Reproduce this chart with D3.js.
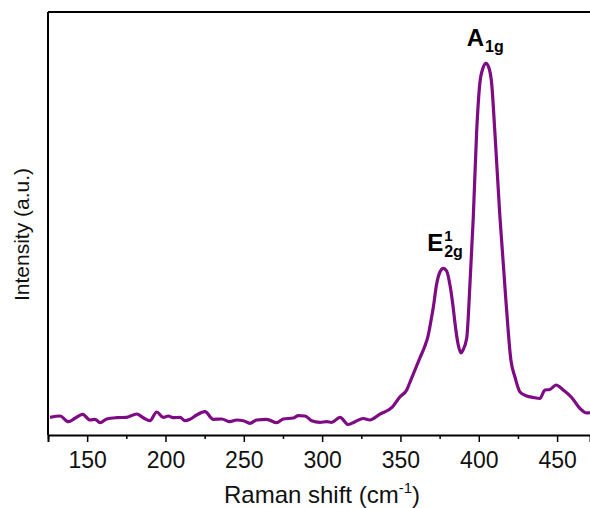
<!DOCTYPE html>
<html>
<head>
<meta charset="utf-8">
<script src="https://cdn.jsdelivr.net/npm/d3@7"></script>
<style>
  body { margin: 0; background: #fff; }
  text { font-family: Arial, "Liberation Sans", sans-serif; }
</style>
</head>
<body>
<div id="chart"></div>
<script>
// Raman shift (cm-1)
const ramanShift = [
  126.3, 132.7, 138.0, 142.2, 147.1, 151.8, 155.0, 158.2, 162.5, 168.9,
  175.2, 181.6, 185.8, 190.1, 194.4, 198.6, 201.8, 205.0, 209.3, 212.4,
  215.6, 219.9, 225.2, 230.5, 235.9, 241.2, 245.4, 249.7, 253.9, 258.2,
  264.6, 271.0, 275.2, 281.6, 284.8, 289.0, 293.3, 298.6, 302.9, 306.1,
  311.4, 316.7, 321.0, 326.3, 330.5, 336.9, 344.4, 349.7, 354.0, 356.1,
  360.3, 362.4, 365.6, 367.6, 369.9, 370.9, 373.1, 375.2, 377.3, 379.5,
  381.6, 383.7, 384.8, 386.9, 388.6, 389.9, 392.3, 394.4, 396.5, 398.6,
  400.7, 402.7, 404.6, 406.5, 408.2, 410.3, 413.5, 417.3, 420.5, 423.1,
  426.3, 430.6, 434.8, 439.0, 442.2, 445.4, 449.3, 453.9, 459.3, 464.6,
  468.9, 471.0
];
// Intensity (a.u.)
const intensity = [
  41.8, 44.9, 31.4, 39.5, 48.9, 35.5, 37.1, 29.1, 37.8, 40.9,
  41.8, 49.6, 40.9, 33.8, 54.4, 41.8, 44.9, 40.9, 41.8, 33.8,
  37.1, 47.3, 55.1, 37.1, 37.8, 31.4, 35.5, 33.8, 27.7, 35.5,
  37.1, 29.1, 37.8, 40.2, 45.6, 44.9, 33.8, 30.0, 31.4, 30.0,
  41.8, 24.8, 31.4, 39.0, 35.5, 49.6, 64.5, 90.5, 106.4, 125.3,
  163.1, 182.0, 210.4, 234.0, 279.0, 300.2, 357.0, 385.3, 394.1, 387.7,
  354.6, 300.2, 264.8, 212.8, 193.8, 200.9, 229.3, 359.3, 515.4, 713.9,
  832.1, 867.6, 878.7, 867.6, 832.1, 713.9, 515.4, 319.1, 177.3, 137.1,
  101.7, 92.2, 88.7, 86.3, 106.4, 107.6, 118.2, 106.4, 88.7, 62.6,
  52.0, 53.2
];

const xTicks = [150, 200, 250, 300, 350, 400, 450];
const xMinorTicks = [125, 175, 225, 275, 325, 375, 425];
const xDomain = [125, 471];
const yDomain = [0, 1000];

// peak labels: main letter, subscript, superscript, peak position
const peakMain = ["E", "A"];
const peakSub = ["2g", "1g"];
const peakSup = ["1", ""];
const peakAt = [377.3, 404.6];

const config = { width: 590, height: 508, top: 12, left: 48, bottom: 73, right: 0 };
const innerW = config.width - config.left - config.right;
const innerH = config.height - config.top - config.bottom;

const svg = d3.select("#chart").append("svg")
  .attr("width", config.width)
  .attr("height", config.height);

const g = svg.append("g")
  .attr("transform", `translate(${config.left},${config.top})`);

const x = d3.scaleLinear().domain(xDomain).range([0, innerW]);
const y = d3.scaleLinear().domain(yDomain).range([innerH, 0]);

const data = ramanShift.map((d, i) => ({ x: d, y: intensity[i] }));

// spectrum
const line = d3.line()
  .x(d => x(d.x))
  .y(d => y(d.y))
  .curve(d3.curveMonotoneX);

g.append("path")
  .datum(data)
  .attr("fill", "none")
  .attr("stroke", "#7e0b83")
  .attr("stroke-width", 3.2)
  .attr("stroke-linejoin", "round")
  .attr("d", line);

// bottom axis (major + minor ticks)
const xAxis = g.append("g")
  .attr("transform", `translate(0,${innerH})`)
  .call(d3.axisBottom(x).tickValues(xTicks).tickSize(7).tickPadding(10).tickFormat(d3.format("d")));
xAxis.select(".domain").attr("stroke-width", 2);
xAxis.selectAll(".tick line").attr("stroke-width", 1.5);
xAxis.selectAll("text").attr("font-size", 23).attr("fill", "#111");

g.append("g")
  .attr("transform", `translate(0,${innerH})`)
  .call(d3.axisBottom(x).tickValues(xMinorTicks).tickSize(4).tickFormat(""))
  .call(a => a.select(".domain").remove())
  .selectAll(".tick line").attr("stroke-width", 1.5);

// left and top frame lines
g.append("line").attr("x1", 0).attr("x2", 0).attr("y1", 0).attr("y2", innerH)
  .attr("stroke", "#000").attr("stroke-width", 2);
g.append("line").attr("x1", 0).attr("x2", innerW).attr("y1", 0).attr("y2", 0)
  .attr("stroke", "#000").attr("stroke-width", 2);

// axis titles
const xTitle = svg.append("text")
  .attr("x", 322)
  .attr("y", 503)
  .attr("text-anchor", "middle")
  .attr("font-size", 24)
  .attr("fill", "#111");
xTitle.append("tspan").text("Raman shift (cm");
xTitle.append("tspan").attr("font-size", 15).attr("dy", -10).text("-1");
xTitle.append("tspan").attr("dy", 10).text(")");

svg.append("text")
  .attr("transform", `translate(29,${config.top + innerH / 2 + 11}) rotate(-90)`)
  .attr("text-anchor", "middle")
  .attr("font-size", 21)
  .attr("fill", "#111")
  .text("Intensity (a.u.)");

// peak labels (one text element each, tspans for sub/superscripts)
peakMain.forEach((m, i) => {
  const px = x(peakAt[i]);
  const idx = ramanShift.indexOf(peakAt[i]);
  const py = y(intensity[idx]);
  const base = py - 17;
  const t = g.append("text")
    .attr("font-weight", "bold")
    .attr("fill", "#000")
    .attr("y", base);
  const main = t.append("tspan").attr("font-size", 24).text(m);
  const w = main.node().getComputedTextLength();
  const shift = peakSup[i] ? 0 : -2;
  const x0 = px + shift - w;
  t.attr("x", x0);
  main.attr("x", x0);
  if (peakSup[i]) {
    t.append("tspan").attr("font-size", 15).attr("x", x0 + w + 1).attr("y", base - 10).text(peakSup[i]);
  }
  t.append("tspan").attr("font-size", 16).attr("x", x0 + w + 1).attr("y", base + 6).text(peakSub[i]);
});
</script>
</body>
</html>
